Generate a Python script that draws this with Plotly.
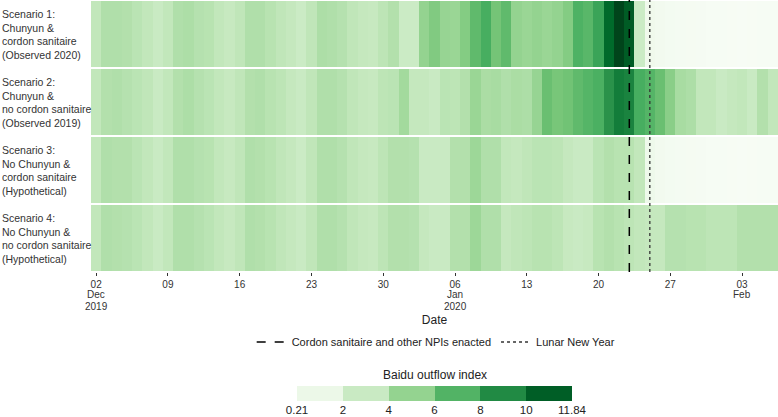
import pandas as pd
import plotly.graph_objects as go

# daily Baidu outflow index, 02 Dec 2019 .. 06 Feb 2020 (67 days)
dates = pd.date_range("2019-12-02", "2020-02-06", freq="D")

scenarios = [
    "Scenario 1:<br>Chunyun &<br>cordon sanitaire<br>(Observed 2020)",
    "Scenario 2:<br>Chunyun &<br>no cordon sanitaire<br>(Observed 2019)",
    "Scenario 3:<br>No Chunyun &<br>cordon sanitaire<br>(Hypothetical)",
    "Scenario 4:<br>No Chunyun &<br>no cordon sanitaire<br>(Hypothetical)",
]

s1 = [3.3, 4.0, 4.0, 3.9, 3.6, 3.3, 3.0, 3.3, 4.0, 4.1, 3.8, 3.7, 3.3, 3.1,
      3.4, 4.0, 4.0, 3.7, 3.4, 3.2, 2.9, 3.4, 4.1, 4.0, 3.8, 3.4, 3.2,
      3.1, 3.5, 3.9, 2.9, 2.9, 5.0, 5.6, 4.9, 4.8, 5.5, 6.6, 7.3, 6.0,
      6.6, 5.0, 4.8, 5.0, 4.8, 5.0, 5.5, 7.1, 6.8, 7.8, 10.5, 11.84, 11.0, 2.9,
      0.8, 0.6, 0.5, 0.45, 0.4, 0.35, 0.3, 0.3, 0.25, 0.21, 0.25, 0.3, 0.3]
s2 = [3.3, 3.9, 4.0, 3.8, 3.6, 3.4, 3.0, 3.3, 3.9, 4.1, 3.8, 3.6, 3.3, 3.1,
      3.4, 3.9, 4.0, 3.7, 3.5, 3.2, 3.0, 3.4, 4.0, 4.0, 3.8, 3.4, 3.2,
      3.1, 3.5, 3.6, 4.5, 3.2, 3.2, 3.0, 3.6, 3.5, 3.9, 4.8, 4.2, 4.3,
      4.0, 4.2, 4.1, 4.9, 6.3, 5.9, 6.1, 6.6, 6.9, 7.2, 8.6, 9.6, 9.3, 7.3,
      6.9, 6.3, 5.3, 4.3, 4.1, 3.3, 3.3, 3.0, 3.2, 3.3, 3.0, 3.9, 3.3]
s3 = [3.3, 4.0, 3.9, 3.9, 3.6, 3.3, 3.0, 3.3, 4.0, 4.0, 3.8, 3.7, 3.3, 3.1,
      3.4, 4.0, 3.9, 3.7, 3.4, 3.2, 2.9, 3.4, 4.0, 4.0, 3.8, 3.4, 3.2,
      3.1, 3.5, 3.9, 3.9, 3.8, 3.0, 3.0, 3.0, 3.9, 3.9, 4.7, 4.0, 4.0,
      3.3, 3.2, 3.4, 3.6, 3.6, 3.5, 3.2, 3.0, 3.0, 3.6, 3.9, 3.7, 3.7, 3.3,
      0.9, 0.6, 0.5, 0.45, 0.4, 0.35, 0.3, 0.3, 0.25, 0.22, 0.25, 0.3, 0.3]
s4 = [3.3, 4.0, 3.9, 3.8, 3.6, 3.3, 3.0, 3.3, 4.0, 4.0, 3.8, 3.6, 3.3, 3.1,
      3.4, 4.0, 3.9, 3.7, 3.4, 3.2, 3.0, 3.4, 4.0, 4.0, 3.8, 3.4, 3.2,
      3.1, 3.5, 3.9, 3.9, 3.8, 3.2, 3.0, 3.0, 3.9, 3.9, 4.7, 4.0, 4.0,
      3.2, 3.4, 3.5, 3.7, 3.7, 3.5, 3.1, 3.0, 3.1, 3.7, 3.9, 3.7, 3.5, 3.3,
      3.2, 3.2, 3.8, 3.8, 3.7, 3.7, 3.5, 3.5, 3.5, 3.9, 3.9, 3.9, 3.9]

# reference dates
cordon_date = "2020-01-23"
lny_date = "2020-01-25"

# x axis ticks (day on the axis, month / year written underneath)
tick_dates = ["2019-12-02", "2019-12-09", "2019-12-16", "2019-12-23", "2019-12-30",
              "2020-01-06", "2020-01-13", "2020-01-20", "2020-01-27", "2020-02-03"]
tick_days = ["02", "09", "16", "23", "30", "06", "13", "20", "27", "03"]
month_marks = [("2019-12-02", "Dec", "2019"), ("2020-01-06", "Jan", "2020"),
               ("2020-02-03", "Feb", "")]

# legend bins
bin_edges = [0.21, 2, 4, 6, 8, 10, 11.84]
bin_labels = ["0.21", "2", "4", "6", "8", "10", "11.84"]

greens = [[0.0, "#f7fcf5"], [0.125, "#e5f5e0"], [0.25, "#c7e9c0"], [0.375, "#a1d99b"],
          [0.5, "#74c476"], [0.625, "#41ab5d"], [0.75, "#238b45"], [0.875, "#006d2c"],
          [1.0, "#00441b"]]
zmin, zmax = bin_edges[0], bin_edges[-1]

W, H = 778, 417
FONT = "Liberation Sans, Arial, Helvetica, sans-serif"

fig = go.Figure()

fig.add_trace(go.Heatmap(
    x=dates, y=scenarios, z=[s1, s2, s3, s4],
    colorscale=greens, zmin=zmin, zmax=zmax, showscale=False,
    ygap=2, hoverinfo="skip", xaxis="x", yaxis="y"))

# vertical event lines on an overlay axis spanning the heatmap
fig.add_trace(go.Scatter(
    x=[cordon_date, cordon_date], y=[0, 1], mode="lines",
    line=dict(color="black", width=1.5, dash="dash"),
    name="Cordon sanitaire and other NPIs enacted", xaxis="x", yaxis="y2"))
fig.add_trace(go.Scatter(
    x=[lny_date, lny_date], y=[0, 1], mode="lines",
    line=dict(color="#333333", width=1.3, dash="dot"),
    name="Lunar New Year", xaxis="x", yaxis="y2"))

# stepped colour key
mids = [(a + b) / 2 for a, b in zip(bin_edges[:-1], bin_edges[1:])]
fig.add_trace(go.Heatmap(
    x=list(range(len(bin_edges))), y=[0], z=[mids],
    colorscale=greens, zmin=zmin, zmax=zmax, showscale=False,
    hoverinfo="skip", xaxis="x3", yaxis="y3"))

#row labels, left aligned
for lab in scenarios:
    fig.add_annotation(x=0, xref="paper", xanchor="left", y=lab, yref="y",
                       yanchor="middle", text=lab, showarrow=False, align="left",
                       font=dict(size=10.5, color="#333333", family=FONT))

#month and year lines under the day ticks
for d, mon, yr in month_marks:
    fig.add_annotation(x=d, xref="x", y=(H - 294.5) / H, yref="paper", yanchor="middle",
                       text=mon, showarrow=False, borderpad=0,
                       font=dict(size=10, color="#333333"))
    if yr:
        fig.add_annotation(x=d, xref="x", y=(H - 306) / H, yref="paper", yanchor="middle",
                           text=yr, showarrow=False, borderpad=0,
                           font=dict(size=10, color="#333333"))

fig.add_annotation(x=(297 + 572) / 2 / W, xref="paper", xanchor="center",
                   y=(H - 375) / H, yref="paper", yanchor="middle",
                   text="Baidu outflow index", showarrow=False,
                   font=dict(size=12, color="#222222", family=FONT))

fig.update_layout(
    width=W, height=H,
    margin=dict(l=0, r=0, t=0, b=0, autoexpand=False),
    paper_bgcolor="white", plot_bgcolor="white",
    font=dict(family=FONT, color="#333333", size=11),
    xaxis=dict(type="date", domain=[91 / W, 1], anchor="y", automargin=False,
               range=["2019-12-01 12:00", "2020-02-06 12:00"],
               tickvals=tick_dates, ticktext=tick_days,
               ticks="outside", ticklen=3, tickcolor="#333333", tickwidth=1,
               tickfont=dict(size=10),
               showgrid=False, zeroline=False, showline=False,
               title=dict(text="Date", font=dict(size=12, color="#222222"), standoff=26)),
    yaxis=dict(type="category", domain=[(H - 272) / H, 1], anchor="x", automargin=False,
               autorange="reversed", showticklabels=False, ticks="",
               showgrid=False, zeroline=False),
    yaxis2=dict(overlaying="y", range=[0, 1], visible=False, anchor="x", automargin=False),
    xaxis3=dict(domain=[297 / W, 572 / W], anchor="y3", range=[0, len(bin_edges) - 1],
                automargin=False,
                tickvals=list(range(len(bin_edges))), ticktext=bin_labels,
                ticks="", tickfont=dict(size=11.5, color="#222222"),
                showgrid=False, zeroline=False, showline=False),
    yaxis3=dict(domain=[(H - 401) / H, (H - 386) / H], anchor="x3", visible=False,
                automargin=False),
    legend=dict(orientation="h", x=0.56, xanchor="center", y=(H - 342) / H,
                yanchor="middle", font=dict(size=11, color="#222222"),
                bgcolor="rgba(0,0,0,0)"),
)

# drop the browser's default 8px page margin so the figure fills the window
fig.write_html("out.html", config={"displayModeBar": False},
               post_script="document.body.style.margin='0px';")
